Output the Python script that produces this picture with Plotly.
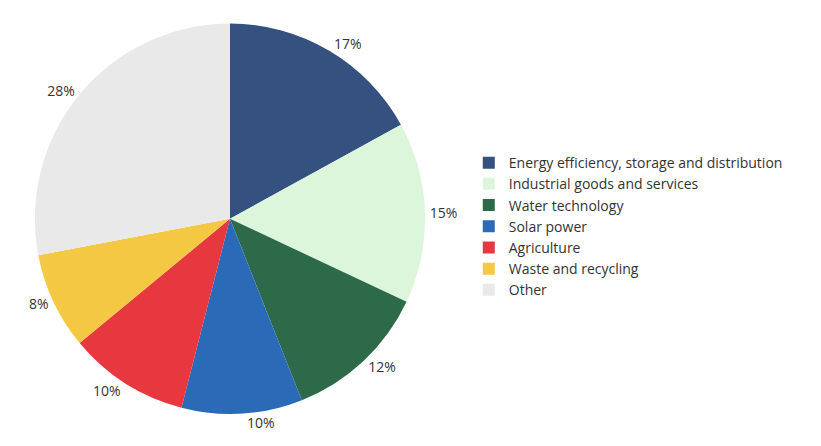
import plotly.graph_objects as go

categories = ["Energy efficiency, storage and distribution", "Industrial goods and services",
              "Water technology", "Solar power", "Agriculture", "Waste and recycling", "Other"]
values = [17, 15, 12, 10, 10, 8, 28]
labels_text = ["17%", "15%", "12%", "10%", "10%", "8%", "28%"]
colors = ["#34517f", "#dcf6dc", "#2c6a4a", "#2b6ab7", "#e7373f", "#f4c843", "#e9e9e9"]

fig = go.Figure(go.Pie(
    labels=categories, values=values, text=labels_text,
    textinfo="text", textposition="outside",
    sort=False, direction="clockwise", rotation=0,
    marker=dict(colors=colors, line=dict(width=0)),
    textfont=dict(size=14, color="#333333", family="Open Sans"),
    domain=dict(x=[0.015, 0.515], y=[0.09, 0.965]),
    showlegend=True,
))
fig.update_layout(
    width=821, height=446,
    margin=dict(l=0, r=0, t=0, b=0),
    paper_bgcolor="white", plot_bgcolor="white",
    legend=dict(x=0.558, y=0.51, xanchor="left", yanchor="middle",
                font=dict(size=14, color="#333333", family="Open Sans"),
                itemwidth=30, tracegroupgap=0, traceorder="normal"),
)
fig.write_html("out.html")
